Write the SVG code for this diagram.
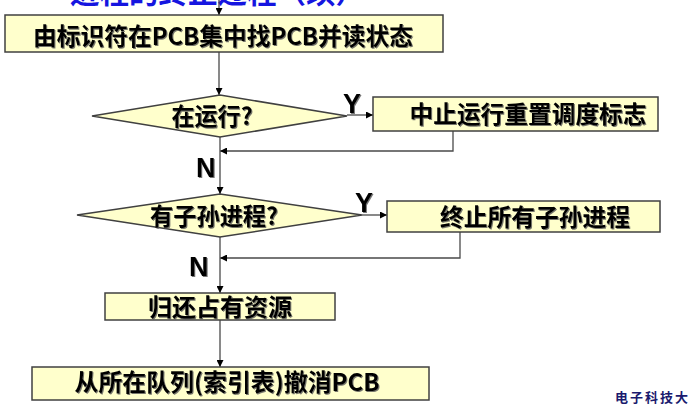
<svg xmlns="http://www.w3.org/2000/svg" width="688" height="405" viewBox="0 0 688 405">
<style>
.box{fill:#FFFFCC;stroke:#404040;stroke-width:1.5}
.t{font-family:"Noto Sans CJK SC","Liberation Sans",sans-serif;font-weight:bold;font-size:24px;fill:#000;text-anchor:middle;filter:url(#sh)}
.yn{font-family:"Liberation Sans","Noto Sans CJK SC",sans-serif;font-weight:bold;font-size:27px;fill:#000;filter:url(#sh)}
.ln{fill:none;stroke:#4a4a4a;stroke-width:1.3}
</style>
<defs>
<marker id="ah" viewBox="0 0 10 10" refX="10" refY="5" markerWidth="7" markerHeight="7" markerUnits="userSpaceOnUse" orient="auto">
<path d="M0,0 L10,5 L0,10 z" fill="#000"/>
</marker>
<filter id="sh" x="-5%" y="-10%" width="110%" height="130%">
<feDropShadow dx="1" dy="1" stdDeviation="0.3" flood-color="#555" flood-opacity="0.8"/>
</filter>
</defs>
<rect width="688" height="405" fill="#fff"/>
<text x="70" y="3" font-family="Noto Sans CJK SC,sans-serif" font-weight="bold" font-size="30" fill="#1515E0" textLength="295" lengthAdjust="spacingAndGlyphs">进程的终止过程（续）</text>
<g id="connectors">
<path class="ln" d="M219,0 V15" marker-end="url(#ah)"/>
<path class="ln" d="M219,52 V95" marker-end="url(#ah)"/>
<path class="ln" d="M347,115 H373" marker-end="url(#ah)"/>
<path class="ln" d="M453,131 V151 H220" marker-end="url(#ah)"/>
<path class="ln" d="M220,137 V194" marker-end="url(#ah)"/>
<path class="ln" d="M362,215 H387" marker-end="url(#ah)"/>
<path class="ln" d="M460,232 V258 H220" marker-end="url(#ah)"/>
<path class="ln" d="M220,237 V293" marker-end="url(#ah)"/>
<path class="ln" d="M220,320 V367" marker-end="url(#ah)"/>
<text class="yn" x="343" y="113">Y</text>
<text class="yn" x="196" y="177">N</text>
<text class="yn" x="355" y="212">Y</text>
<text class="yn" x="189" y="276">N</text>
</g>
<g id="n1">
<rect class="box" x="5" y="15" width="438" height="37"/>
<text class="t" x="223" y="45" font-size="26" textLength="380" lengthAdjust="spacingAndGlyphs">由标识符在PCB集中找PCB并读状态</text>
</g>
<g id="d1">
<polygon class="box" points="92,116 220,95 347,116 220,137"/>
<text class="t" x="212" y="125" textLength="81" lengthAdjust="spacingAndGlyphs">在运行?</text>
</g>
<g id="n2">
<rect class="box" x="373" y="97" width="285" height="34"/>
<text class="t" x="528" y="123" textLength="237" lengthAdjust="spacingAndGlyphs">中止运行重置调度标志</text>
</g>
<g id="d2">
<polygon class="box" points="77,215 220,194 362,215 220,237"/>
<text class="t" x="214" y="225" textLength="128" lengthAdjust="spacingAndGlyphs">有子孙进程?</text>
</g>
<g id="n3">
<rect class="box" x="387" y="201" width="273" height="31"/>
<text class="t" x="535" y="226" textLength="190" lengthAdjust="spacingAndGlyphs">终止所有子孙进程</text>
</g>
<g id="n4">
<rect class="box" x="105" y="293" width="230" height="27"/>
<text class="t" x="220" y="316" textLength="144" lengthAdjust="spacingAndGlyphs">归还占有资源</text>
</g>
<g id="n5">
<rect class="box" x="32" y="367" width="397" height="33"/>
<text class="t" x="227" y="391" textLength="305" lengthAdjust="spacingAndGlyphs">从所在队列(索引表)撤消PCB</text>
</g>
<text x="615" y="402" font-family="Noto Sans CJK SC,sans-serif" font-weight="bold" font-size="13" fill="#1a1a6e" letter-spacing="2">电子科技大</text>
</svg>
